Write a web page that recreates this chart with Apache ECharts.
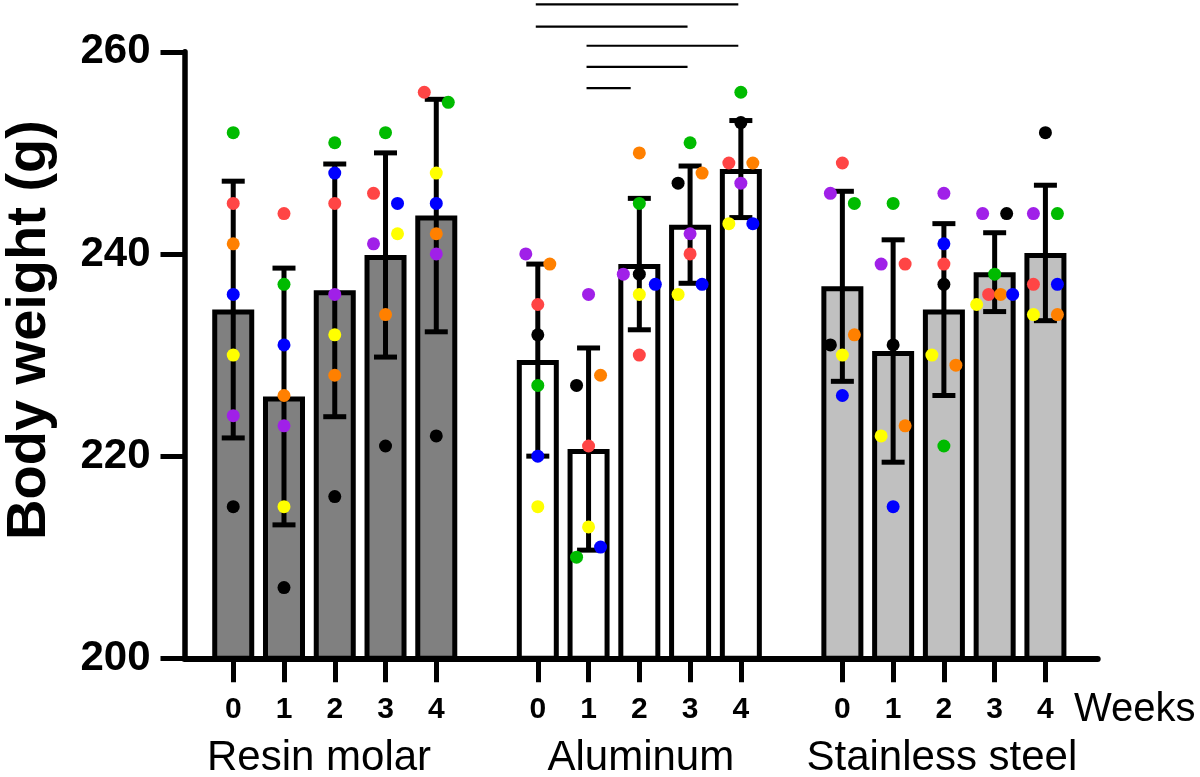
<!DOCTYPE html>
<html><head><meta charset="utf-8">
<script src="https://cdn.jsdelivr.net/npm/echarts@6/dist/echarts.min.js"></script>
<style>html,body{margin:0;padding:0;background:#fff}#c{width:1200px;height:777px}</style>
</head><body><div id="c"></div>
<script>
// ---------- data ----------
const groups = ['Resin molar', 'Aluminum', 'Stainless steel'];
const weeks = ['0', '1', '2', '3', '4'];
const yTicks = [200, 220, 240, 260];
// bar order: group-major (Resin wk0..4, Aluminum wk0..4, Stainless wk0..4)
const means = [234.5, 225.9, 236.4, 239.9, 243.8, 229.5, 220.7, 239.0, 242.9, 248.4, 236.8, 230.4, 234.5, 238.2, 240.1];
const sds   = [12.7, 12.7, 12.5, 10.1, 11.5, 9.5, 10.0, 6.5, 5.8, 4.8, 9.4, 11.0, 8.5, 3.9, 6.7];
// individual animals (one colour each)
const ratBlack  = [215, 207, 216, 221, 222, 232, 227, 238, 247, 253, 231, 231, 237, 244, 252];
const ratRed    = [245, 244, 245, 246, 256, 235, 221, 230, 240, 249, 249, 239, 239, 236, 237];
const ratOrange = [241, 226, 228, 234, 242, 239, 228, 250, 248, 249, 232, 223, 229, 236, 234];
const ratYellow = [230, 215, 232, 242, 248, 215, 213, 236, 236, 243, 230, 222, 230, 235, 234];
const ratGreen  = [252, 237, 251, 252, 255, 227, 210, 245, 251, 256, 245, 245, 221, 238, 244];
const ratBlue   = [236, 231, 248, 245, 245, 220, 211, 237, 237, 243, 226, 215, 241, 236, 237];
const ratPurple = [224, 223, 236, 241, 240, 240, 236, 238, 242, 247, 246, 239, 246, 244, 244];
// significance brackets within Aluminum: [from week, to week, height (g)]
const sigFrom = [0, 0, 1, 1, 1];
const sigTo   = [4, 3, 4, 3, 2];
const sigY    = [264.7, 262.5, 260.6, 258.5, 256.4];

// ---------- styling / layout ----------
const FONT = 'Liberation Sans';
const groupFill = ['#808080', '#ffffff', '#c0c0c0'];
const rats = [
  {name: 'black',  color: '#000000', values: ratBlack,  order: 1},
  {name: 'red',    color: '#ff4545', values: ratRed,    order: 3},
  {name: 'orange', color: '#ff8000', values: ratOrange, order: 4},
  {name: 'yellow', color: '#ffff00', values: ratYellow, order: 2},
  {name: 'green',  color: '#00bb00', values: ratGreen,  order: 5},
  {name: 'blue',   color: '#0000ff', values: ratBlue,   order: 6},
  {name: 'purple', color: '#a020e8', values: ratPurple, order: 0}
];
const slotOf = i => Math.floor(i / 5) * 6 + (i % 5);   // one empty slot between groups
const tickSlots = means.map((m, i) => slotOf(i));

// spread overlapping dots horizontally (pixel offsets)
const dotOffsets = means.map((m, bi) => {
  const pts = rats.map((r, ri) => ({ri, v: r.values[bi]})).sort((a, b) => b.v - a.v);
  const rows = [];
  pts.forEach(p => {
    const row = rows[rows.length - 1];
    if (row && row[0].v - p.v <= 1.3) row.push(p); else rows.push([p]);
  });
  const off = {};
  rows.forEach(row => {
    row.sort((a, b) => rats[a.ri].order - rats[b.ri].order);
    const n = row.length, step = n === 2 ? 24 : (n === 3 ? 16 : 12);
    row.forEach((p, k) => { off[p.ri] = (k - (n - 1) / 2) * step; });
  });
  return off;
});

const X_MIN = -0.96, X_MAX = 17.03;
const chart = echarts.init(document.getElementById('c'), null, {renderer: 'canvas'});

const option = {
  animation: false,
  backgroundColor: '#ffffff',
  grid: {left: 184.5, right: 102.3, top: 51.8, bottom: 118.7, containLabel: false, outerBoundsMode: 'none'},
  xAxis: [{
    type: 'value', min: X_MIN, max: X_MAX, position: 'bottom',
    splitLine: {show: false},
    axisLine: {show: true, onZero: false, lineStyle: {color: '#000', width: 6}},
    axisTick: {show: true, length: 24, customValues: tickSlots, lineStyle: {color: '#000', width: 5}},
    axisLabel: {
      customValues: tickSlots, margin: 36,
      formatter: v => weeks[Math.round(v) % 6],
      color: '#000', fontFamily: FONT, fontWeight: 'bold', fontSize: 30
    }
  }, {
    type: 'value', min: X_MIN, max: X_MAX, position: 'bottom',
    splitLine: {show: false}, axisLine: {show: false}, axisTick: {show: false},
    axisLabel: {
      customValues: [1.69, 8.03, 13.96], margin: 79,
      formatter: v => groups[Math.round((v - 2) / 6)],
      color: '#000', fontFamily: FONT, fontSize: 42
    }
  }],
  yAxis: {
    type: 'value', min: yTicks[0], max: yTicks[yTicks.length - 1], interval: 20,
    splitLine: {show: false},
    axisLine: {show: true, onZero: false, lineStyle: {color: '#000', width: 5.5}},
    axisTick: {show: true, length: 24, lineStyle: {color: '#000', width: 5}},
    axisLabel: {margin: 34, color: '#000', fontFamily: FONT, fontWeight: 'bold', fontSize: 42}
  },
  graphic: [
    {type: 'text', x: 30, y: 330, rotation: Math.PI / 2,
     style: {text: 'Body weight (g)', fill: '#000', fontFamily: FONT, fontWeight: 'bold', fontSize: 56,
             align: 'center', verticalAlign: 'middle'}},
    {type: 'text', x: 1074, y: 710,
     style: {text: 'Weeks', fill: '#000', fontFamily: FONT, fontSize: 40, align: 'left', verticalAlign: 'middle'}}
  ],
  series: [
    {
      type: 'bar', xAxisIndex: 0, barWidth: 42, z: 2,
      data: means.map((m, i) => ({
        value: [slotOf(i), m],
        itemStyle: {color: groupFill[Math.floor(i / 5)], borderColor: '#000', borderWidth: 5}
      }))
    },
    {
      type: 'custom', xAxisIndex: 0, z: 3,
      data: means.map((m, i) => [slotOf(i), m, sds[i]]),
      encode: {x: 0, y: 1},
      renderItem: (params, api) => {
        const x = api.value(0), m = api.value(1), s = api.value(2);
        const top = api.coord([x, m + s]), bot = api.coord([x, m - s]);
        const half = 11.5, st = {stroke: '#000', lineWidth: 5};
        return {type: 'group', children: [
          {type: 'line', shape: {x1: top[0], y1: top[1], x2: bot[0], y2: bot[1]}, style: st},
          {type: 'line', shape: {x1: top[0] - half, y1: top[1], x2: top[0] + half, y2: top[1]}, style: st},
          {type: 'line', shape: {x1: bot[0] - half, y1: bot[1], x2: bot[0] + half, y2: bot[1]}, style: st}
        ]};
      }
    },
    {
      type: 'custom', xAxisIndex: 0, z: 3, clip: false,
      data: sigFrom.map((f, k) => [6 + f, 6 + sigTo[k], sigY[k]]),
      encode: {x: [0, 1], y: 2},
      renderItem: (params, api) => {
        const a = api.coord([api.value(0) - 0.04, api.value(2)]);
        const b = api.coord([api.value(1) - (api.value(1) - api.value(0) === 1 ? 0.17 : 0.05), api.value(2)]);
        return {type: 'line', shape: {x1: a[0], y1: a[1], x2: b[0], y2: b[1]}, style: {stroke: '#000', lineWidth: 2.2}};
      }
    }
  ].concat(rats.map((r, ri) => ({
    type: 'scatter', xAxisIndex: 0, z: 4, name: r.name,
    symbol: 'circle', symbolSize: 13,
    itemStyle: {color: r.color, opacity: 1},
    data: r.values.map((v, bi) => ({value: [slotOf(bi), v], symbolOffset: [dotOffsets[bi][ri], 0]}))
  })))
};
chart.setOption(option);
</script>
</body></html>
